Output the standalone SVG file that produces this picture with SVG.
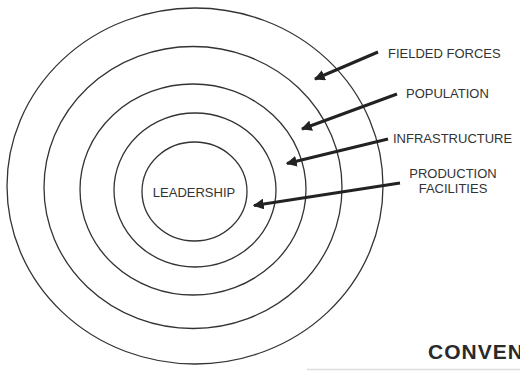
<svg xmlns="http://www.w3.org/2000/svg" width="520" height="371" viewBox="0 0 520 371">
<style>
.ring{fill:none;stroke:#333;stroke-width:1.3}
.lbl{font-family:"Liberation Sans",Arial,sans-serif;font-size:13px;fill:#333}
.arr{stroke:#222;stroke-width:3;fill:none;marker-end:url(#ah)}
</style>
<defs>
<marker id="ah" viewBox="0 0 10 10" refX="9" refY="5" markerWidth="3.6" markerHeight="3.6" orient="auto" markerUnits="strokeWidth">
<path d="M0,0 L10,5 L0,10 z" fill="#222"/>
</marker>
</defs>
<rect width="520" height="371" fill="#fff"/>
<g id="ring-fielded-forces"><ellipse class="ring" cx="195" cy="186" rx="188" ry="178"/></g>
<g id="ring-population"><ellipse class="ring" cx="193" cy="187.5" rx="149" ry="141"/></g>
<g id="ring-infrastructure"><ellipse class="ring" cx="193" cy="189.5" rx="113" ry="105.5"/></g>
<g id="ring-production"><ellipse class="ring" cx="195" cy="190" rx="81" ry="77"/></g>
<g id="leadership"><ellipse class="ring" cx="194.5" cy="191.5" rx="52.5" ry="49.5"/>
<text class="lbl" x="194" y="197" text-anchor="middle">LEADERSHIP</text></g>
<g id="label-fielded-forces"><text class="lbl" x="388" y="57.5">FIELDED FORCES</text></g>
<g id="label-population"><text class="lbl" x="406" y="98">POPULATION</text></g>
<g id="label-infrastructure"><text class="lbl" x="393" y="143">INFRASTRUCTURE</text></g>
<g id="label-production"><text class="lbl" x="453" y="178" text-anchor="middle">PRODUCTION</text>
<text class="lbl" x="453" y="193" text-anchor="middle">FACILITIES</text></g>
<g id="connectors">
<line class="arr" x1="378" y1="52" x2="315" y2="79"/>
<line class="arr" x1="397" y1="94" x2="302" y2="129"/>
<line class="arr" x1="388" y1="139" x2="287" y2="163.5"/>
<line class="arr" x1="400" y1="183" x2="254" y2="205.5"/>
</g>
<text x="428" y="359" font-family="Liberation Sans,Arial,sans-serif" font-weight="bold" font-size="21" letter-spacing="1" fill="#2a2a2a">CONVEN</text>
<line x1="307" y1="369.5" x2="520" y2="369.5" stroke="#ddd" stroke-width="1.5"/>
</svg>
